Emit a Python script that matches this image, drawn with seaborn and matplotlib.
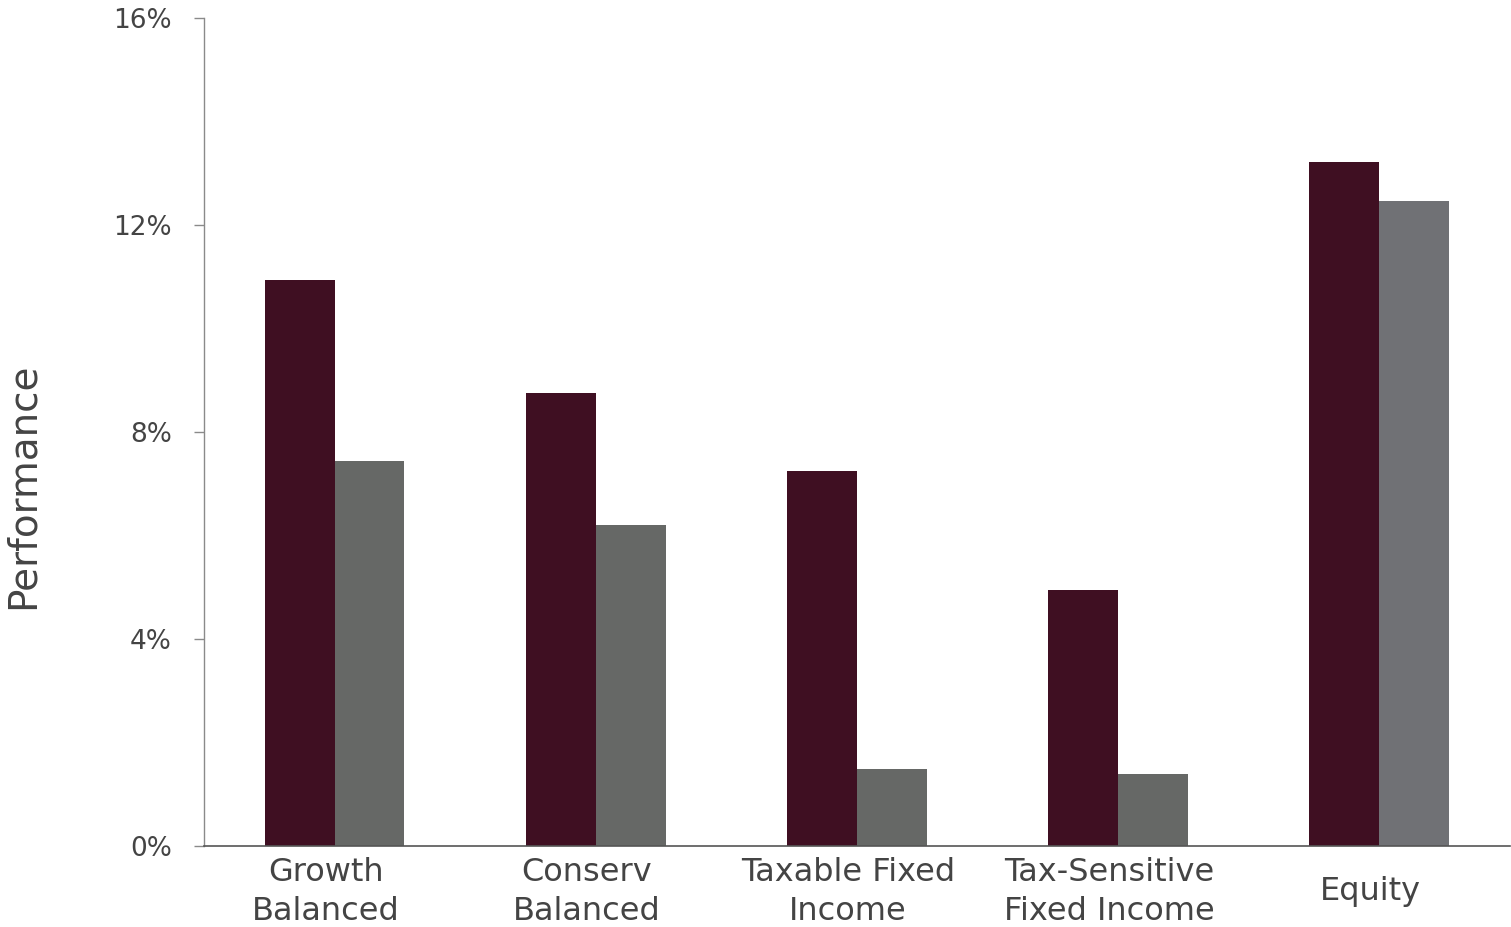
import matplotlib
matplotlib.use("Agg")
import matplotlib.pyplot as plt
import matplotlib.transforms as mtransforms
import seaborn as sns
import pandas as pd
from matplotlib.ticker import FuncFormatter

categories = ["Growth\nBalanced", "Conserv\nBalanced", "Taxable Fixed\nIncome",
              "Tax-Sensitive\nFixed Income", "Equity"]
series_names = ["Portfolio", "Benchmark"]
portfolio = [10.94, 8.75, 7.25, 4.95, 13.22]
benchmark = [7.44, 6.20, 1.49, 1.39, 12.46]
y_ticks = [0, 4, 8, 12, 16]

df = pd.DataFrame({
    "category": categories * 2,
    "series": [series_names[0]] * 5 + [series_names[1]] * 5,
    "value": portfolio + benchmark,
})

sns.set_theme(style="white")
plt.rcParams["font.family"] = ["DejaVu Sans"]

fig = plt.figure(figsize=(15.11, 9.27), dpi=100)
ax = fig.add_axes([0.135, 0.0874, 0.8643, 0.8932])

sns.barplot(data=df, x="category", y="value", hue="series",
            palette=["#3F0F22", "#666866"], width=0.535, ax=ax,
            legend=False, saturation=1, errorbar=None, linewidth=0)

# equity benchmark bar is a slightly cooler grey
bars = list(ax.patches)
if len(bars) >= 10:
    bars[9].set_facecolor("#707175")

ax.set_xlim(-0.5, 4.5)
ax.set_ylim(0, 16)
ax.set_yticks(y_ticks)
ax.yaxis.set_major_formatter(FuncFormatter(lambda v, _: f"{v:.0f}%"))
ax.set_xlabel("")
ax.set_ylabel("Performance", fontsize=28, color="#444444")
ax.yaxis.set_label_coords(-0.1245, 0.435)

sns.despine(ax=ax)
ax.spines["left"].set_color("#8a8a8a")
ax.spines["left"].set_linewidth(1.0)
ax.spines["bottom"].set_color("#555555")
ax.spines["bottom"].set_linewidth(1.2)

ax.tick_params(axis="y", which="major", left=True, length=7, width=1,
               color="#8a8a8a", labelsize=19, labelcolor="#444444", pad=16)
ax.tick_params(axis="x", which="major", bottom=False, labelsize=23,
               labelcolor="#444444", pad=27)
shift = mtransforms.ScaledTranslation(-9 / 100, 0, fig.dpi_scale_trans)
for lbl in ax.get_xticklabels():
    lbl.set_linespacing(1.33)
    lbl.set_verticalalignment("center")
    lbl.set_transform(lbl.get_transform() + shift)

fig.savefig("out.png", dpi=100)
